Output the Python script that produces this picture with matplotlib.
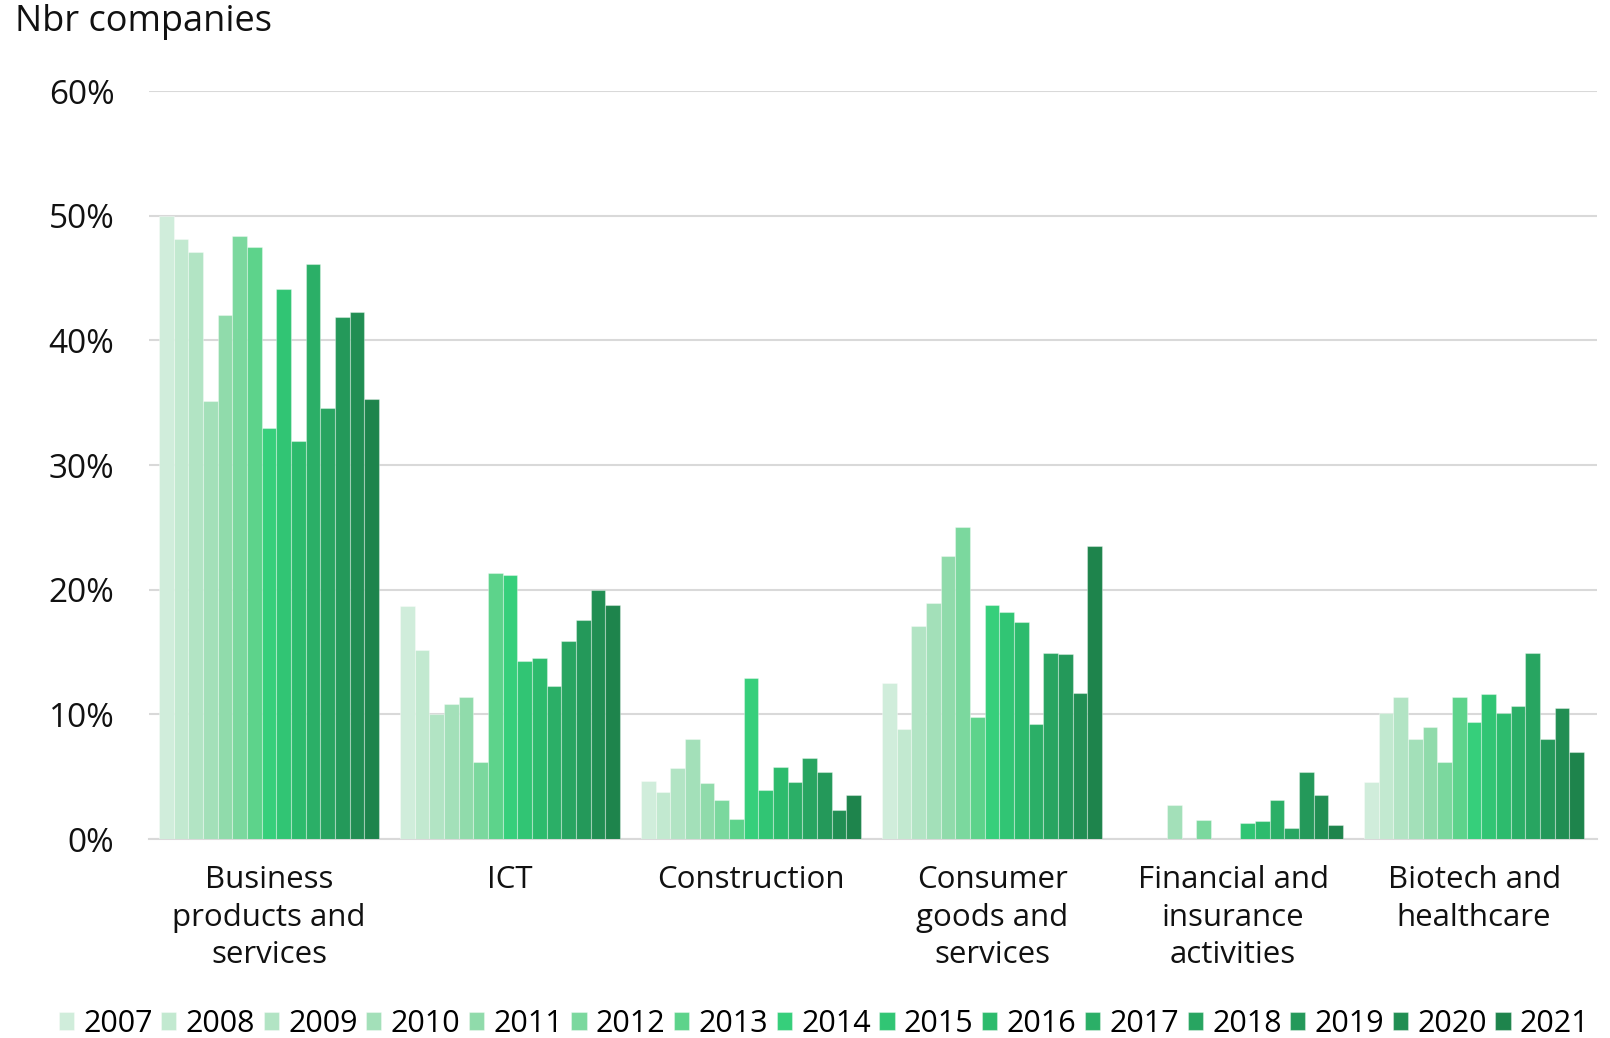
import matplotlib
matplotlib.use("Agg")
import matplotlib.pyplot as plt
import numpy as np
from matplotlib.ticker import FuncFormatter

plt.rcParams['font.family'] = ['Open Sans', 'DejaVu Sans']

categories = ["Business\nproducts and\nservices", "ICT", "Construction",
              "Consumer\ngoods and\nservices", "Financial and\ninsurance\nactivities",
              "Biotech and\nhealthcare"]
years = ["2007", "2008", "2009", "2010", "2011", "2012", "2013", "2014",
         "2015", "2016", "2017", "2018", "2019", "2020", "2021"]

business = [50.0, 48.1, 47.1, 35.1, 42.0, 48.4, 47.5, 33.0, 44.1, 31.9, 46.1, 34.6, 41.9, 42.3, 35.3]
ict = [18.7, 15.2, 10.0, 10.8, 11.4, 6.2, 21.3, 21.2, 14.3, 14.5, 12.3, 15.9, 17.6, 20.0, 18.8]
construction = [4.65, 3.8, 5.7, 8.05, 4.5, 3.1, 1.6, 12.9, 3.9, 5.8, 4.6, 6.5, 5.4, 2.35, 3.5]
consumer = [12.5, 8.8, 17.1, 18.9, 22.7, 25.0, 9.8, 18.8, 18.2, 17.4, 9.2, 14.9, 14.8, 11.7, 23.5]
financial = [0, 0, 0, 2.7, 0, 1.5, 0, 0, 1.3, 1.45, 3.1, 0.9, 5.4, 3.5, 1.15]
biotech = [4.6, 10.1, 11.4, 8.05, 9.0, 6.2, 11.4, 9.4, 11.6, 10.1, 10.7, 14.9, 8.05, 10.5, 7.0]

colors = ["#d0eddb", "#c2e9d0", "#b2e4c4", "#a3e0b9", "#90dbab", "#7bd89e",
          "#5dd38b", "#36cf7b", "#31c574", "#2dbb6d", "#2baf67", "#28a561",
          "#24995a", "#218e53", "#1e844c"]

data = np.array([business, ict, construction, consumer, financial, biotech])  # cat x year

fig = plt.figure(figsize=(16.10, 10.38), dpi=100)
ax = fig.add_axes([149/1610, 1 - 839/1038, (1597-149)/1610, (839-91)/1038])

x = np.arange(len(categories))
n = len(years)
group_w = 220/241
bw = group_w / n
for j, yr in enumerate(years):
    pos = x - group_w/2 + bw*(j + 0.5)
    ax.bar(pos, data[:, j], width=bw, color=colors[j], label=yr,
           edgecolor=(1, 1, 1, 0.35), linewidth=0.8, zorder=3)

ax.set_ylim(0, 60)
ax.set_xlim(-0.498, 5.51)
ax.set_yticks(np.arange(0, 61, 10))
ax.yaxis.set_major_formatter(FuncFormatter(lambda v, p: f"{int(v)}%"))
ax.grid(axis='y', color='#d9d9d9', linewidth=1.5, zorder=0)
ax.set_axisbelow(True)
for s in ['top', 'right', 'left']:
    ax.spines[s].set_visible(False)
ax.spines['bottom'].set_color('#d9d9d9')
ax.spines['bottom'].set_linewidth(1.5)
ax.tick_params(axis='both', length=0, colors='#111111')
ax.tick_params(axis='y', pad=25, labelsize=24)
ax.tick_params(axis='x', pad=19, labelsize=22.5)
ax.set_xticks(x)
ax.set_xticklabels(categories, linespacing=1.31)

fig.text(15/1610, 1 - 22/1038, "Nbr companies", fontsize=26, va='center', ha='left', color='#111111')

leg = fig.legend(loc='center', bbox_to_anchor=(824/1610, 1 - 1024/1038), ncol=15,
                 frameon=False, fontsize=22, handlelength=0.5, handleheight=0.5,
                 handletextpad=0.3, columnspacing=0.28, borderaxespad=0, borderpad=0)

fig.savefig("out.png", dpi=100, facecolor='white')
